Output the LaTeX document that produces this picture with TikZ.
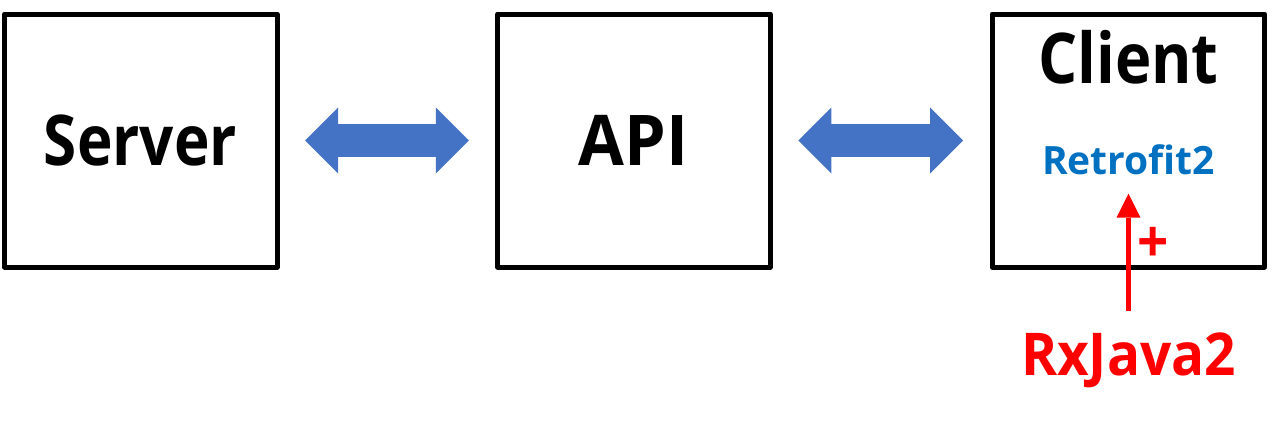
\documentclass[tikz,border=0pt]{standalone}
\usepackage{fontspec}
\setmainfont{Open Sans}
\newfontfamily\bigfont{Open Sans}[FakeStretch=0.86]
\newfontfamily\apifont{Open Sans}[FakeStretch=0.95]
\newfontfamily\clientfont{Open Sans}[FakeStretch=0.88]
\newfontfamily\midfont{Open Sans}[FakeStretch=0.93]
\usetikzlibrary{arrows.meta}
\definecolor{arrowblue}{HTML}{4472C4}
\definecolor{retroblue}{HTML}{0070C0}
\definecolor{rxred}{HTML}{FF0000}
\begin{document}
\begin{tikzpicture}[x=1pt,y=-1pt,
  block/.style={draw=black,line width=5pt,line join=round,minimum width=272.5pt,minimum height=253pt,inner sep=0pt,outer sep=0pt},
  bigtext/.style={font=\bigfont\fontsize{70}{70}\selectfont\bfseries,inner sep=0pt},
  midtext/.style={font=\midfont\fontsize{59}{59}\selectfont\bfseries,inner sep=0pt},
  smalltext/.style={font=\fontsize{39}{39}\selectfont\bfseries,inner sep=0pt},
  dbl/.style={arrowblue,line width=33pt,
    {Triangle[length=33pt,width=66pt,line width=0pt]}-{Triangle[length=33pt,width=66pt,line width=0pt]},
    shorten <=28pt,shorten >=29pt},
  redarrow/.style={rxred,line width=5.5pt,-{Triangle[length=24pt,width=24pt,line width=0pt]}}]
\useasboundingbox (0,0) rectangle (1280,423);
\node[block] (server) at (140.75,140.5) {};
\node[block] (api) at (634,140.5) {};
\node[block] (client) at (1128.25,140.5) {};
\node[bigtext] (servertxt) at (140.5,140) {Server};
\node[bigtext,font=\apifont\fontsize{70}{70}\selectfont\bfseries] (apitxt) at (633.5,140) {API};
\node[bigtext,font=\clientfont\fontsize{70}{70}\selectfont\bfseries,anchor=base] (clienttxt) at (1128.5,83) {Client};
\node[smalltext,text=retroblue,anchor=base] (retro) at (1128.5,174) {Retrofit2};
\node[midtext,text=rxred,anchor=base] (rx) at (1128.5,375) {RxJava2};
\node[midtext,text=rxred] (plus) at (1153,245) {+};
\draw[dbl] (server.east) -- (api.west);
\draw[dbl] (api.east) -- (client.west);
\draw[redarrow,shorten <=21pt,shorten >=19pt] (rx.north) -- (retro.south);
\end{tikzpicture}
\end{document}
